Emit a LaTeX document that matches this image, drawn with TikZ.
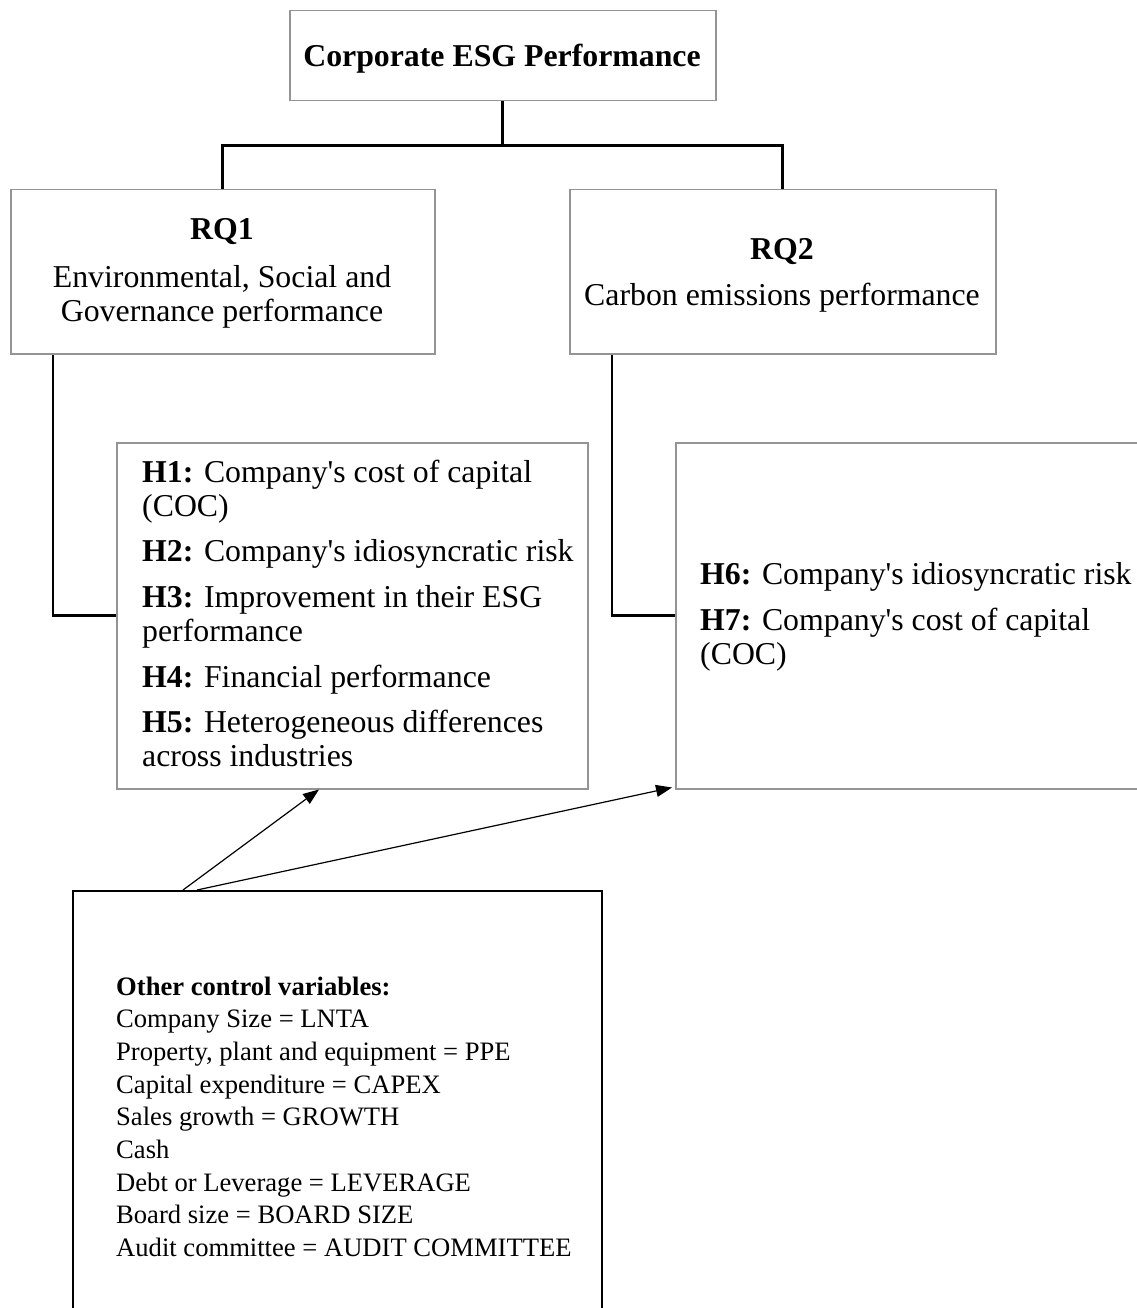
\documentclass[tikz,border=0pt]{standalone}
\usepackage{fontspec}
\setmainfont{Liberation Serif}
\usetikzlibrary{arrows.meta}
\tikzset{
  gbox/.style={draw=black!42, line width=1.5pt, anchor=north west, inner sep=0pt},
  kbox/.style={draw=black, line width=2.2pt, anchor=north west, inner sep=0pt},
  conn/.style={draw=black, line width=2.6pt},
  arr/.style={draw=black, line width=1.2pt, -{Triangle[length=16pt,width=12pt]}},
  body/.style={font=\fontsize{31.8}{34.3}\selectfont, inner sep=0pt},
  small/.style={font=\fontsize{26.6}{32.7}\selectfont, inner sep=0pt}
}
\newcommand{\apo}{\textquotesingle}
\begin{document}
\begin{tikzpicture}[x=1pt,y=-1pt]
\useasboundingbox (0,0) rectangle (1136,1308);
% boxes
\node[gbox, minimum width=426pt, minimum height=90pt] (top) at (289,10) {};
\node[gbox, minimum width=424pt, minimum height=164pt] (rq1) at (10,189) {};
\node[gbox, minimum width=426pt, minimum height=164pt] (rq2) at (569,189) {};
\node[gbox, minimum width=471pt, minimum height=346pt] (h1) at (116,442) {};
\node[gbox, minimum width=480pt, minimum height=346pt] (h2) at (675,442) {};
\node[kbox, minimum width=529pt, minimum height=520pt] (ctrl) at (72,890) {};
% texts
\node[body, anchor=base] (toptxt) at (502,67) {\textbf{Corporate ESG Performance}};
\node[body, anchor=base] (rq1a) at (222,239) {\textbf{RQ1}};
\node[body, anchor=base] (rq1b) at (222,287) {Environmental, Social and};
\node[body, anchor=base] (rq1c) at (222,321) {Governance performance};
\node[body, anchor=base] (rq2a) at (782,259) {\textbf{RQ2}};
\node[body, anchor=base] (rq2b) at (782,305) {Carbon emissions performance};
\node[body, anchor=base west] (h1txt) at (142,482) {\vtop{\lineskiplimit=-100pt
  \hbox{\textbf{H1:} Company\apo s cost of capital}
  \hbox{(COC)}\vskip11.2pt
  \hbox{\textbf{H2:} Company\apo s idiosyncratic risk}\vskip11.2pt
  \hbox{\textbf{H3:} Improvement in their ESG}
  \hbox{performance}\vskip11.2pt
  \hbox{\textbf{H4:} Financial performance}\vskip11.2pt
  \hbox{\textbf{H5:} Heterogeneous differences}
  \hbox{across industries}}};
\node[body, anchor=base west] (h2txt) at (700,584) {\vtop{\lineskiplimit=-100pt
  \hbox{\textbf{H6:} Company\apo s idiosyncratic risk}\vskip11.7pt
  \hbox{\textbf{H7:} Company\apo s cost of capital}
  \hbox{(COC)}}};
\node[small, anchor=base west] (ctrltxt) at (116,995) {\vtop{\lineskiplimit=-100pt
  \hbox{\textbf{Other control variables:}}
  \hbox{Company Size = LNTA}
  \hbox{Property, plant and equipment = PPE}
  \hbox{Capital expenditure = CAPEX}
  \hbox{Sales growth = GROWTH}
  \hbox{Cash}
  \hbox{Debt or Leverage = LEVERAGE}
  \hbox{Board size = BOARD SIZE}
  \hbox{Audit committee = AUDIT COMMITTEE}}};
% connectors
\draw[conn] (top.south) -- ++(0,44) coordinate (jt) -| (rq1.north);
\draw[conn] (jt) -| (rq2.north);
\draw[conn] ([xshift=43pt]rq1.south west) |- (h1.west);
\draw[conn] ([xshift=43pt]rq2.south west) |- (h2.west);
% arrows
\draw[arr] ([xshift=111pt]ctrl.north west) -- ([xshift=203pt]h1.south west);
\draw[arr] ([xshift=125pt]ctrl.north west) -- ([xshift=-3pt,yshift=2pt]h2.south west);
\end{tikzpicture}
\end{document}
